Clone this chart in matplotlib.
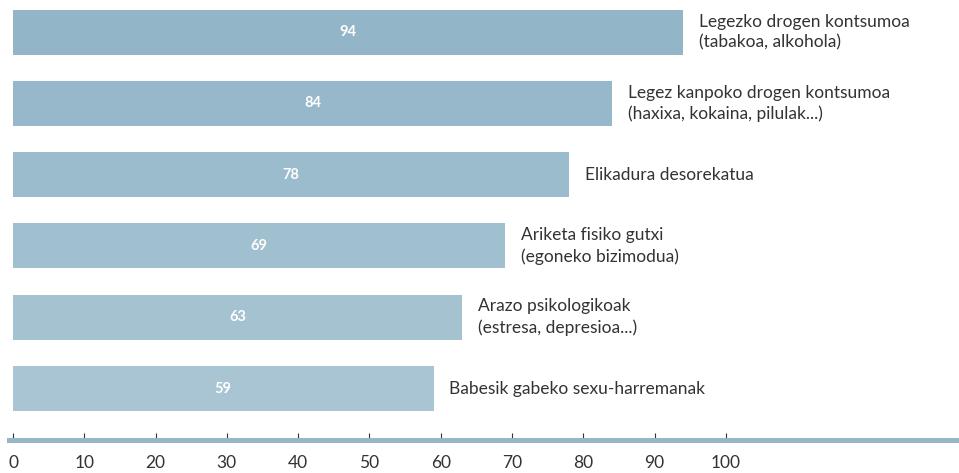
import matplotlib
matplotlib.use("Agg")
import matplotlib.pyplot as plt

# arrisku-faktoreak eta ehunekoak
kategoriak = [
    "Legezko drogen kontsumoa\n(tabakoa, alkohola)",
    "Legez kanpoko drogen kontsumoa\n(haxixa, kokaina, pilulak...)",
    "Elikadura desorekatua",
    "Ariketa fisiko gutxi\n(egoneko bizimodua)",
    "Arazo psikologikoak\n(estresa, depresioa...)",
    "Babesik gabeko sexu-harremanak",
]
balioak = [94, 84, 78, 69, 63, 59]
koloreak = ["#93b5c8", "#96b8ca", "#9bbccd", "#a0bfcf", "#a5c2d1", "#a9c5d3"]
tickak = [0, 10, 20, 30, 40, 50, 60, 70, 80, 90, 100]

plt.rcParams["font.family"] = ["Lato", "DejaVu Sans"]

fig = plt.figure(figsize=(9.59, 4.73), dpi=100)
ax = fig.add_axes([0.0094, 0.0698, 0.9906, 0.930])

posizioak = list(range(len(balioak)))
ax.barh(posizioak, balioak, height=0.63, color=koloreak)

for i in posizioak:
    ax.text(balioak[i] / 2, i, str(balioak[i]), ha="center", va="center",
            color="white", fontsize=10.5, fontweight="bold")
    ax.text(balioak[i] + 2.2, i, kategoriak[i], ha="left", va="center",
            color="#333333", fontsize=12.5, linespacing=1.38)

ax.set_xlim(-0.56, 132.7)
ax.set_ylim(5.722, -0.449)

for s in ["top", "left", "right"]:
    ax.spines[s].set_visible(False)
ax.spines["bottom"].set_color("#96b6c8")
ax.spines["bottom"].set_linewidth(3.6)

ax.set_yticks([])
ax.set_xticks(tickak)
ax.tick_params(axis="x", direction="in", length=5, width=0.8, color="#333333",
               pad=11, labelsize=12.5, labelcolor="#333333")

fig.savefig("out.png", dpi=100)
